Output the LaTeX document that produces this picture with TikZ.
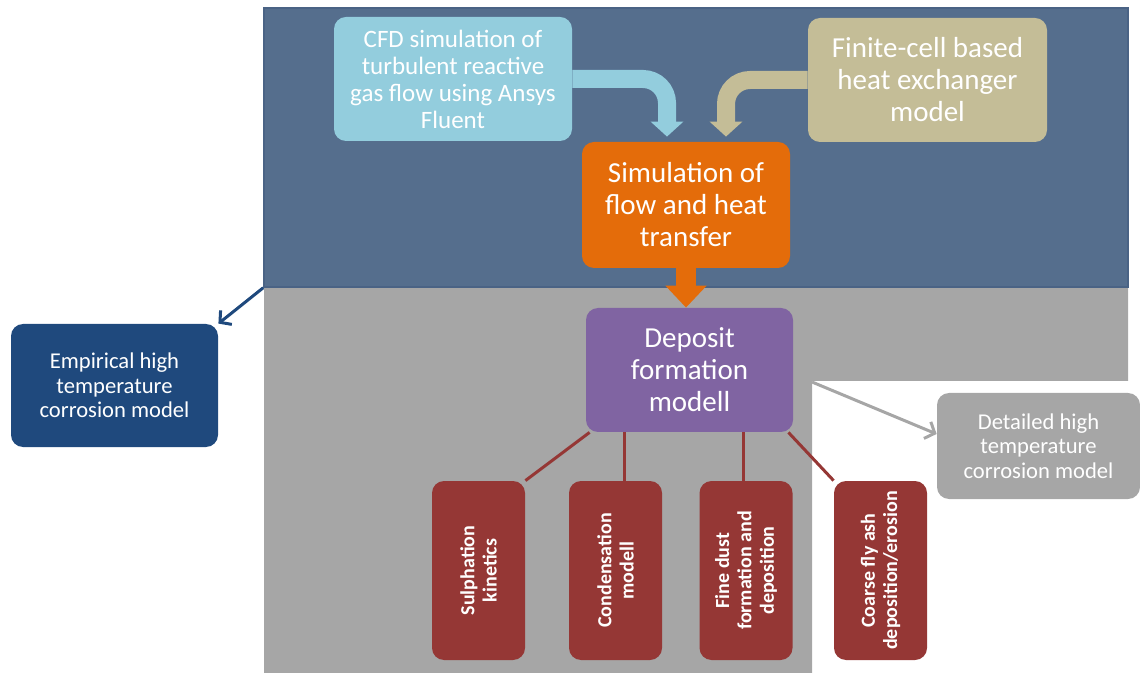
\documentclass[tikz,border=0pt]{standalone}
\usepackage{fontspec}
\setmainfont{Carlito}
\usetikzlibrary{arrows.meta}
\definecolor{slate}{HTML}{556E8D}
\definecolor{slateline}{HTML}{4A6385}
\definecolor{ashgray}{HTML}{A6A6A6}
\definecolor{skyc}{HTML}{93CDDD}
\definecolor{sandc}{HTML}{C4BD97}
\definecolor{orangec}{HTML}{E46C0A}
\definecolor{violetc}{HTML}{8064A2}
\definecolor{navyc}{HTML}{1F497D}
\definecolor{brick}{HTML}{953735}

\begin{document}
\begin{tikzpicture}[x=0.5pt, y=-0.5pt,
    box/.style={rounded corners=6pt, text=white, align=center, inner sep=2pt},
    bigtxt/.style={font=\fontsize{14.5}{16}\selectfont},
    midtxt/.style={font=\fontsize{12.5}{13.5}\selectfont},
    smalltxt/.style={font=\fontsize{11.3}{12.3}\selectfont},
    leaf/.style={box, fill=brick, rotate=90, minimum width=89.5pt, minimum height=46.5pt,
        font=\bfseries\fontsize{10}{11.2}\selectfont},
    feed/.style={line width=9pt, rounded corners=12pt, shorten >=2.5pt,
        -{Triangle[width=16pt,length=7.5pt]}},
    branch/.style={brick, line width=1.5pt},
    lead/.style={line width=1.5pt, -{Straight Barb[length=4pt,width=9pt]}}]
    \useasboundingbox (0,0) rectangle (1140,673);
    % background regions
    \fill[ashgray] (264,287) -| (1128,381) -| (812,673) -- (264,673) -- cycle;
    \coordinate (notch) at (812,382);
    \node[fill=slate, draw=slateline, line width=0.8pt, minimum width=432pt, minimum height=139.5pt] (top) at (696,147.5) {};
    % upper models
    \node[box, midtxt, fill=skyc, minimum width=119pt, minimum height=62pt] (cfd) at (453,79)
        {CFD simulation of\\turbulent reactive\\gas flow using Ansys\\Fluent};
    \node[box, bigtxt, fill=sandc, minimum width=119.5pt, minimum height=62pt] (fin) at (927.5,80)
        {Finite-cell based\\heat exchanger\\model};
    \node[box, bigtxt, fill=orangec, minimum width=104pt, minimum height=63pt] (sim) at (686,205)
        {Simulation of\\flow and heat\\transfer};
    \node[box, bigtxt, fill=violetc, minimum width=103.5pt, minimum height=62pt] (dep) at (689.5,370)
        {Deposit\\formation\\modell};
    % corrosion models
    \node[box, smalltxt, fill=navyc, minimum width=103.5pt, minimum height=61.5pt] (emp) at (114.5,385.5)
        {Empirical high\\temperature\\corrosion model};
    \node[box, smalltxt, fill=ashgray, minimum width=101.5pt, minimum height=53pt] (det) at (1038.5,446)
        {Detailed high\\temperature\\corrosion model};
    % submodels
    \node[leaf] (sul) at (478.5,570.5) {Sulphation\\kinetics};
    \node[leaf] (con) at (615.5,570.5) {Condensation\\modell};
    \node[leaf] (fdu) at (746,570.5) {Fine dust\\formation and\\deposition};
    \node[leaf] (cfa) at (880.5,570.5) {Coarse fly ash\\deposition/erosion};

    \draw[feed, skyc] (cfd.east) -| ([xshift=-9.5pt]sim.north);
    \draw[feed, sandc] (fin.west) -| ([xshift=20pt]sim.north);
    \draw[orangec, line width=10pt, -{Triangle[width=20pt,length=11pt]}] (sim.south) -- (sim.south |- dep.north);
    \draw[lead, navyc] (top.south west) -- (emp.north east);
    \draw[lead, ashgray] (notch) -- ([yshift=6pt]det.west);
    \draw[branch] ([xshift=2pt]dep.south west) -- (sul.south east);
    \draw[branch] ([xshift=4.5pt]con.east) -- ([xshift=4.5pt]con.east |- dep.south);
    \draw[branch] ([xshift=-1.5pt]fdu.east) -- ([xshift=-1.5pt]fdu.east |- dep.south);
    \draw[branch] ([xshift=-2.5pt]dep.south east) -- (cfa.north east);
\end{tikzpicture}
\end{document}
